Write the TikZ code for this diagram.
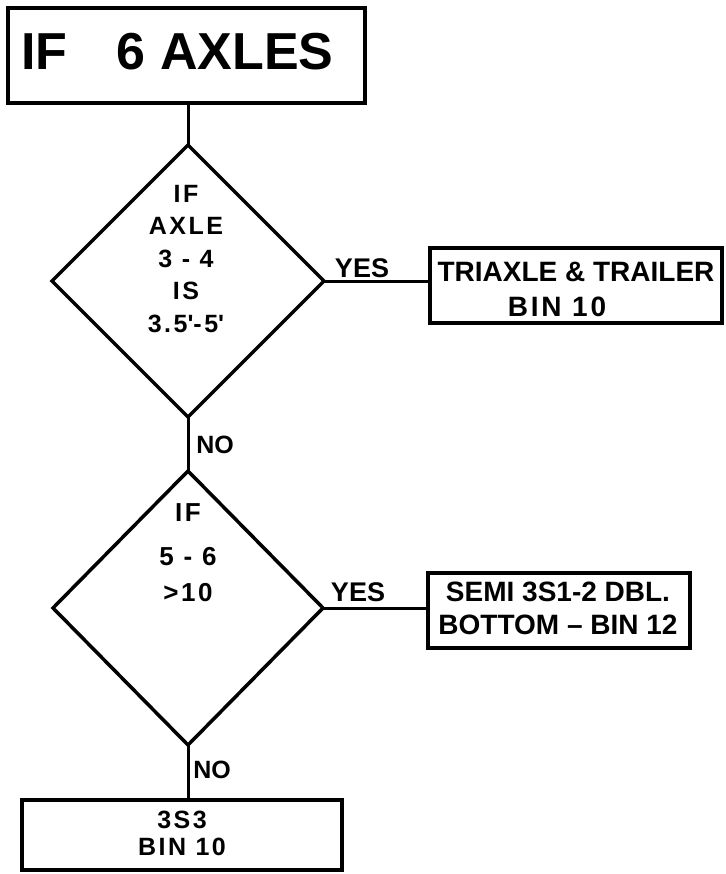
\documentclass[tikz,border=0pt]{standalone}
\usepackage{fontspec}
\setmainfont{Liberation Sans}[BoldFont={Liberation Sans Bold}]
\newfontfamily\wideletters{Liberation Sans Bold}[LetterSpace=10]
\usetikzlibrary{shapes.geometric}
\begin{document}
\begin{tikzpicture}[x=1pt,y=-1pt,
  box/.style={draw, rectangle, line width=3.5pt, inner sep=0pt, outer sep=0pt},
  dia/.style={draw, diamond, line width=3.5pt, inner sep=0pt, outer sep=0pt},
  conn/.style={line width=3pt},
  lbl/.style={inner sep=0pt, align=center, font=\bfseries\fontsize{#1}{#1}\selectfont},
  wlbl/.style 2 args={inner sep=0pt, align=center, font=\wideletters\fontsize{#1}{#2}\selectfont}]
\useasboundingbox (0,0) rectangle (725,874);
% shapes
\node[box, minimum width=357pt, minimum height=95pt] (top) at (186.5,55.5) {};
\node[dia, minimum width=272pt, minimum height=272pt] (d1) at (188,281) {};
\node[box, minimum width=292pt, minimum height=75pt] (b1) at (576,285.5) {};
\node[dia, minimum width=270pt, minimum height=274pt] (d2) at (188,608) {};
\node[box, minimum width=262pt, minimum height=75pt] (b2) at (559,610.5) {};
\node[box, minimum width=320pt, minimum height=70pt] (b3) at (182,835) {};
% connectors
\draw[conn] (d1.north |- top.south) -- (d1.north);
\draw[conn] (d1.east) -- (d1.east -| b1.west);
\draw[conn] (d1.south) -- (d2.north);
\draw[conn] (d2.east) -- (d2.east -| b2.west);
\draw[conn] (d2.south) -- (d2.south |- b3.north);
% texts
\node[lbl=52] (ttop) at (177.5,52) {IF\hspace{0.95em}6 AXLES};
\node[wlbl={25}{32.5}] (td1) at (186,259) {IF\\AXLE\\3 - 4\\IS\\3.5\textquotesingle-5\textquotesingle};
\node[lbl=27] (yes1) at (362,268) {YES};
\node[lbl=28] (tb1a) at (576,272) {TRIAXLE \& TRAILER};
\node[wlbl={28}{28}] (tb1b) at (557,307) {BIN 10};
\node[lbl=25] (no1) at (215,445) {NO};
\node[wlbl={26}{36}] (td2) at (188,553) {IF\\[8pt]5 - 6\\>10};
\node[lbl=27] (yes2) at (358,592) {YES};
\node[lbl=28, font=\bfseries\fontsize{28}{33}\selectfont] (tb2) at (558,608.5) {SEMI 3S1-2 DBL.\\BOTTOM – BIN 12};
\node[lbl=25] (no2) at (212,770) {NO};
\node[wlbl={25}{27}] (tb3) at (182,833.5) {3S3\\BIN 10};
\end{tikzpicture}
\end{document}
